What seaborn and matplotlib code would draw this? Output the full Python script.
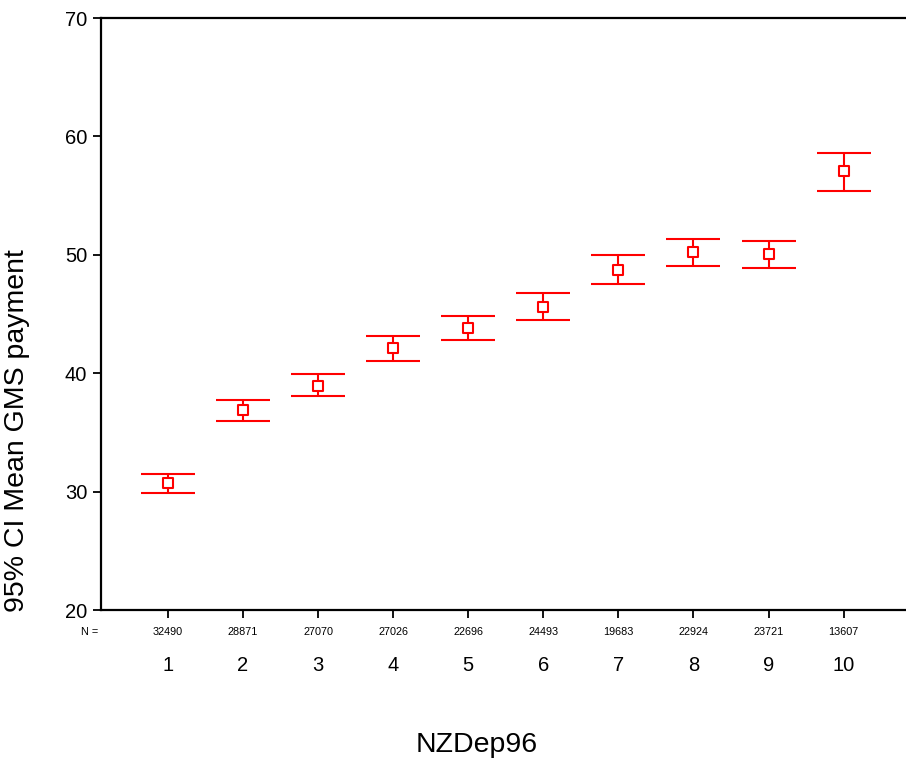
import numpy as np
import pandas as pd
import matplotlib
matplotlib.use("Agg")
import matplotlib.pyplot as plt
import matplotlib.transforms as mtransforms
import seaborn as sns

# NZDep96 deprivation deciles and the 95% CI of mean GMS payment
deciles = [1, 2, 3, 4, 5, 6, 7, 8, 9, 10]
n_counts = [32490, 28871, 27070, 27026, 22696, 24493, 19683, 22924, 23721, 13607]
mean_payment = [30.7, 36.85, 38.95, 42.1, 43.8, 45.6, 48.7, 50.2, 50.1, 57.05]
ci_lower = [29.9, 35.95, 38.05, 41.05, 42.8, 44.5, 47.5, 49.05, 48.9, 55.35]
ci_upper = [31.45, 37.7, 39.95, 43.1, 44.85, 46.8, 49.95, 51.3, 51.15, 58.6]

df = pd.DataFrame({"decile": deciles, "mean": mean_payment,
                   "lo": ci_lower, "hi": ci_upper, "n": n_counts})

sns.set_style("ticks")
plt.rcParams["font.family"] = ["Liberation Sans", "DejaVu Sans"]
plt.rcParams["text.color"] = "black"
plt.rcParams["xtick.color"] = "black"
plt.rcParams["ytick.color"] = "black"
plt.rcParams["axes.labelcolor"] = "black"

fig = plt.figure(figsize=(9.06, 7.58), dpi=100)
ax = fig.add_axes([101 / 906, 1 - 610 / 758, 1 - 101 / 906, (610 - 18) / 758])

red = "#ff0000"
yerr = np.vstack([df["mean"] - df["lo"], df["hi"] - df["mean"]])
ax.errorbar(df["decile"], df["mean"], yerr=yerr, fmt="none", ecolor=red,
            elinewidth=1.5, capsize=19.5, capthick=1.5, zorder=2)
sns.scatterplot(data=df, x="decile", y="mean", marker="s", s=62,
                facecolor="white", edgecolor=red, linewidth=1.5,
                ax=ax, zorder=3, legend=False)

ax.set_xlim(0.11, 10.83)
ax.set_ylim(20, 70)
ax.set_yticks([20, 30, 40, 50, 60, 70])
ax.set_xticks(deciles)
ax.set_xticklabels([str(d) for d in deciles], fontsize=14.5)
ax.tick_params(axis="x", direction="out", length=6, width=1.3, pad=27)
ax.tick_params(axis="y", direction="out", length=6, width=1.3, labelsize=14.5, pad=4)
for side in ["left", "bottom", "top"]:
    ax.spines[side].set_linewidth(1.6)
    ax.spines[side].set_color("black")
ax.spines["right"].set_visible(False)
ax.set_xlabel("")
ax.set_ylabel("")

# case counts under each decile
trans = mtransforms.blended_transform_factory(ax.transData, ax.transAxes)
for d, n in zip(deciles, n_counts):
    ax.text(d, -0.037, str(n), transform=trans, ha="center", va="center",
            fontsize=7.8)
ax.text(0.11 - 0.03, -0.037, "N =", transform=trans, ha="right", va="center",
        fontsize=7.8)

fig.text(477 / 906, 1 - 745 / 758, "NZDep96", ha="center", va="center", fontsize=20.5)
fig.text(17 / 906, 1 - 431 / 758, "95% CI Mean GMS payment", ha="center",
         va="center", rotation=90, fontsize=20.5)

fig.savefig("out.png", dpi=100)
